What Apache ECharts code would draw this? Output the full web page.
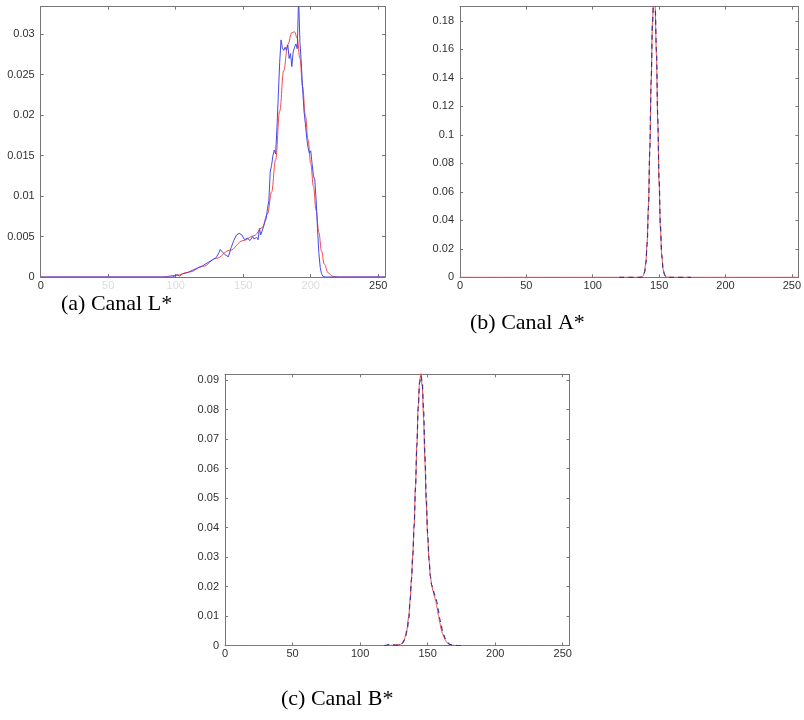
<!DOCTYPE html>
<html>
<head>
<meta charset="utf-8">
<script src="https://cdn.jsdelivr.net/npm/echarts@6/dist/echarts.min.js"></script>
<style>
html,body{margin:0;padding:0;background:#fff;}
#chart{width:804px;height:720px;}
</style>
</head>
<body>
<div id="chart"></div>
<script>
// ---------- Data (x = intensity level, y = probability) ----------
const xTicks = [0, 50, 100, 150, 200, 250];

// (a) Canal L*
const redL = [[0,0],[90,0],[100,0.0002],[110,0.0006],[120,0.0013],[130,0.0023],[140,0.0033],[150,0.0045],[158,0.0051],[164,0.0061],[168,0.0078],[171,0.0105],[174,0.0145],[177,0.0205],[180,0.0255],[183,0.0287],[186,0.0302],[188,0.0303],[190,0.0295],[192,0.0270],[194,0.0235],[196,0.0200],[198,0.0170],[200,0.0140],[202,0.0112],[204,0.0082],[206,0.0055],[208,0.0032],[210,0.0016],[213,0.0005],[216,0.0001],[220,0],[255,0]];
const blueL = [[0,0],[98,0],[101,0.0003],[103,0.0001],[105,0.0004],[108,0.0005],[112,0.0008],[116,0.0011],[120,0.0014],[124,0.0018],[128,0.0022],[130,0.0024],[132,0.0030],[133,0.0034],[135,0.0030],[137,0.0027],[139,0.0025],[141,0.0036],[143,0.0045],[145,0.0052],[147,0.0054],[149,0.0052],[151,0.0046],[153,0.0048],[155,0.0045],[157,0.0050],[158,0.0047],[160,0.0049],[161,0.0046],[162,0.0060],[163,0.0052],[164,0.0057],[165,0.0062],[166,0.0068],[167,0.0072],[168,0.0085],[169,0.0095],[170,0.0130],[171,0.0138],[172,0.0150],[173,0.0157],[174,0.0152],[175,0.0185],[176,0.0225],[177,0.0265],[178,0.0293],[179,0.0283],[180,0.0280],[181,0.0284],[182,0.0280],[183,0.0287],[184,0.0270],[185,0.0276],[186,0.0260],[187,0.0278],[188,0.0284],[189,0.0288],[190,0.0282],[191,0.0345],[192,0.0290],[193,0.0265],[194,0.0232],[195,0.0205],[196,0.0190],[197,0.0172],[198,0.0160],[199,0.0153],[200,0.0156],[201,0.0140],[202,0.0125],[203,0.0120],[204,0.0095],[205,0.0060],[206,0.0030],[207,0.0012],[208,0.0004],[209,0.0001],[211,0],[255,0]];

// (b) Canal A*
const redA = [[0,0],[134,0],[136,0.0001],[137,0.0003],[138,0.0011],[139,0.0037],[140,0.0104],[141,0.025],[142,0.051],[143,0.091],[144,0.138],[145,0.179],[146,0.199],[147,0.19],[148,0.156],[149,0.109],[150,0.066],[151,0.034],[152,0.015],[153,0.0057],[154,0.0019],[155,0.0005],[156,0.0001],[158,0],[255,0]];
const blueA = [[120,0],[136,0],[137,0.0002],[138,0.0009],[139,0.0032],[140,0.0095],[141,0.0235],[142,0.049],[143,0.089],[144,0.137],[145,0.178],[146,0.199],[147,0.192],[148,0.159],[149,0.112],[150,0.069],[151,0.036],[152,0.016],[153,0.0062],[154,0.0021],[155,0.0006],[156,0.0001],[158,0],[174,0]];

// (c) Canal B*
const redB = [[0,0],[120,0],[126,0.0001],[130,0.0004],[132,0.0011],[134,0.0035],[136,0.0095],[137,0.0155],[138,0.0225],[139,0.031],[140,0.041],[141,0.054],[142,0.068],[143,0.081],[144,0.0895],[145,0.0925],[146,0.088],[147,0.077],[148,0.062],[149,0.048],[150,0.037],[151,0.029],[152,0.0235],[153,0.0205],[154,0.0185],[155,0.0168],[156,0.015],[157,0.0128],[158,0.0102],[159,0.0077],[160,0.0056],[161,0.004],[162,0.0028],[163,0.0019],[164,0.0012],[165,0.0007],[166,0.0004],[168,0.0001],[171,0],[255,0]];
const blueB = [[118,0],[120,0.0001],[122,0.0005],[124,0.0003],[126,0.0001],[129,0.0002],[131,0.0007],[133,0.002],[135,0.0058],[136,0.0092],[137,0.015],[138,0.0222],[139,0.0305],[140,0.0405],[141,0.0535],[142,0.0675],[143,0.0805],[144,0.089],[145,0.0915],[146,0.0895],[147,0.08],[148,0.065],[149,0.05],[150,0.038],[151,0.0295],[152,0.0235],[153,0.0205],[154,0.0188],[155,0.0175],[156,0.0162],[157,0.0145],[158,0.0118],[159,0.009],[160,0.0068],[161,0.005],[162,0.0035],[163,0.0024],[164,0.0015],[165,0.0009],[166,0.0005],[168,0.0002],[170,0.0001],[172,0],[177,0]];

const captions = ['(a) Canal L*', '(b) Canal A*', '(c) Canal B*'];

// ---------- Layout / style ----------
const AX = '#767676';
const LBL = '#303030';
const FONT = '"Liberation Sans", Arial, sans-serif';
const RED = '#f24a4a';
const BLUE = '#4848e8';
const BLUE_D = '#34349a';

const grids = [
  {left: 40.7, top: 6.7, width: 344.3, height: 270.3, yMax: 0.0334, yInt: 0.005},
  {left: 460, top: 6.7, width: 343.5, height: 270.6, yMax: 0.19, yInt: 0.02},
  {left: 225, top: 374.3, width: 344.5, height: 271.2, yMax: 0.092, yInt: 0.01}
];

function isMult(v, iv) {
  const r = v / iv;
  return Math.abs(r - Math.round(r)) < 1e-6;
}

const xAxes = [], yAxes = [];
grids.forEach((g, i) => {
  const faint = (i === 0);
  xAxes.push({
    type: 'value', gridIndex: i, min: 0, max: 255, interval: 50, position: 'bottom',
    axisLine: {show: true, onZero: false, lineStyle: {color: AX, width: 1}},
    axisTick: {show: true, inside: true, length: 3, lineStyle: {color: AX}},
    splitLine: {show: false},
    axisLabel: {
      show: true, margin: 3, color: LBL, fontSize: 11, fontFamily: FONT,
      formatter: v => {
        if (!isMult(v, 50)) return '';
        if (faint && v !== 0 && v !== 250) return '{f|' + v + '}';
        return String(v);
      },
      rich: {f: {color: '#dcdcdc', fontSize: 11, fontFamily: FONT}}
    }
  });
  xAxes.push({
    type: 'value', gridIndex: i, min: 0, max: 255, interval: 50, position: 'top',
    axisLine: {show: true, onZero: false, lineStyle: {color: AX, width: 1}},
    axisTick: {show: true, inside: true, length: 3, lineStyle: {color: AX}},
    splitLine: {show: false}, axisLabel: {show: false}
  });
  yAxes.push({
    type: 'value', gridIndex: i, min: 0, max: g.yMax, interval: g.yInt, position: 'left',
    axisLine: {show: true, onZero: false, lineStyle: {color: AX, width: 1}},
    axisTick: {show: true, inside: true, length: 3, lineStyle: {color: AX}},
    splitLine: {show: false},
    axisLabel: {
      show: true, margin: 6, color: LBL, fontSize: 11, fontFamily: FONT,
      formatter: v => isMult(v, g.yInt) ? String(Number(v.toFixed(6))) : ''
    }
  });
  yAxes.push({
    type: 'value', gridIndex: i, min: 0, max: g.yMax, interval: g.yInt, position: 'right',
    axisLine: {show: true, onZero: false, lineStyle: {color: AX, width: 1}},
    axisTick: {show: true, inside: true, length: 3, lineStyle: {color: AX}},
    splitLine: {show: false}, axisLabel: {show: false}
  });
});

function line(data, gi, color, opts) {
  return Object.assign({
    type: 'line', data: data, xAxisIndex: gi * 2, yAxisIndex: gi * 2,
    showSymbol: false, symbol: 'none', clip: true, animation: false,
    lineStyle: {color: color, width: 1}, itemStyle: {color: color}
  }, opts || {});
}

const series = [
  line(redL, 0, RED, {smooth: 0.4, smoothMonotone: 'x'}),
  line(blueL, 0, BLUE),
  line(redA, 1, RED, {smooth: 0.3, smoothMonotone: 'x'}),
  line(blueA, 1, BLUE_D, {smooth: 0.3, smoothMonotone: 'x', lineStyle: {color: BLUE_D, width: 1.2, type: [5, 4]}}),
  line(redB, 2, RED, {smooth: 0.3, smoothMonotone: 'x'}),
  line(blueB, 2, BLUE_D, {smooth: 0.3, smoothMonotone: 'x', lineStyle: {color: BLUE_D, width: 1.2, type: [5, 4]}})
];

const capPos = [[61, 293], [470, 312], [281, 688]];
const graphic = captions.map((t, i) => ({
  type: 'text', left: capPos[i][0], top: capPos[i][1],
  style: {text: t, fill: '#000', font: '22px "Liberation Serif", "Times New Roman", serif'}
}));

const chart = echarts.init(document.getElementById('chart'), null, {renderer: 'canvas'});
chart.setOption({
  animation: false,
  backgroundColor: '#fff',
  grid: grids.map(g => ({left: g.left, top: g.top, width: g.width, height: g.height, containLabel: false, show: false})),
  xAxis: xAxes,
  yAxis: yAxes,
  series: series,
  graphic: graphic
});
</script>
</body>
</html>
